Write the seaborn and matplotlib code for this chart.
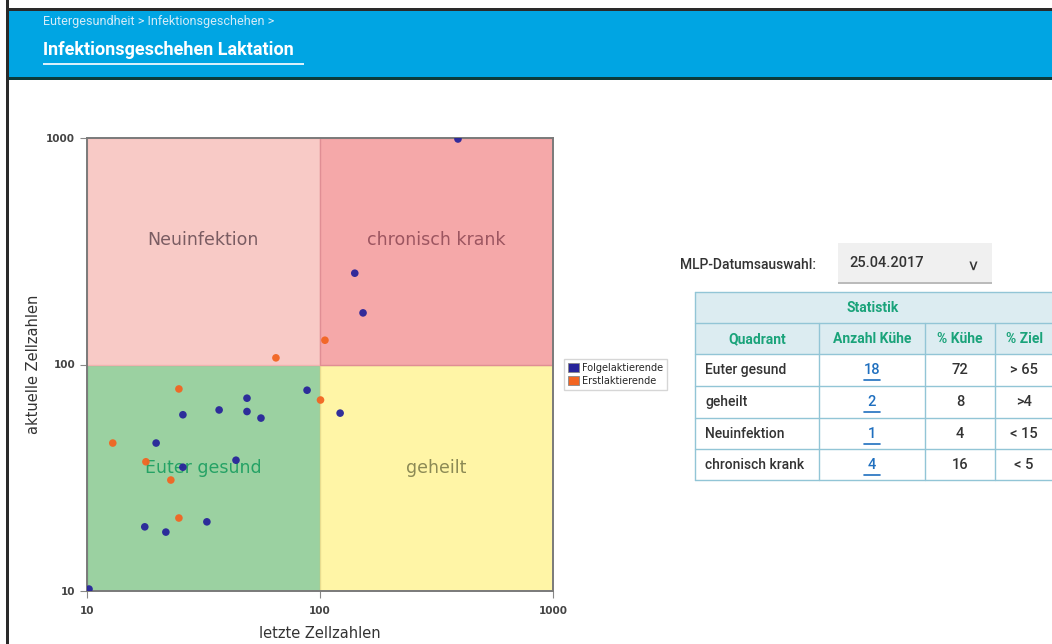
import matplotlib.pyplot as plt
import matplotlib.patches as mpatches
import pandas as pd
import seaborn as sns

# last vs current cell counts (x1000 / ml)
folge_x = [391, 141, 153, 88, 122, 48.6, 48.6, 36.9, 55.8, 25.8, 19.8, 43.6, 25.8, 17.7, 21.8, 32.7, 10.2]
folge_y = [990, 253, 169, 77, 61, 71, 62, 63, 58, 60, 45, 37.8, 35.2, 19.2, 18.2, 20.2, 10.2]
erst_x = [64.7, 105, 24.8, 100.5, 12.9, 17.9, 22.9, 24.8]
erst_y = [107, 128, 78, 69.7, 45, 37.2, 30.9, 21.0]

groups = ["Folgelaktierende", "Erstlaktierende"]
group_colors = ["#27249a", "#f26522"]

quadrants = ["Euter gesund", "geheilt", "Neuinfektion", "chronisch krank"]
anzahl = ["18", "2", "1", "4"]
prozent = ["72", "8", "4", "16"]
ziel = ["> 65", ">4", "< 15", "< 5"]
table_cols = ["Quadrant", "Anzahl Kühe", "% Kühe", "% Ziel"]

df = pd.DataFrame({
    "letzte": folge_x + erst_x,
    "aktuelle": folge_y + erst_y,
    "Gruppe": [groups[0]] * len(folge_x) + [groups[1]] * len(erst_x),
})

sns.set_style("white")
plt.rcParams["font.family"] = ["DejaVu Sans"]

W, H = 1052, 644
fig = plt.figure(figsize=(W / 100, H / 100), dpi=100)


def fx(px):
    return px / W


def fy(py):
    return 1 - py / H


# page frame + header bar
fig.patches.append(mpatches.Rectangle((fx(8), fy(78)), 1, fy(10) - fy(78), transform=fig.transFigure,
                                      facecolor="#00a5e3", edgecolor="none", zorder=0))
fig.patches.append(mpatches.Rectangle((fx(8), fy(80)), 1, fy(77) - fy(80), transform=fig.transFigure,
                                      facecolor="#0c3b3b", edgecolor="none", zorder=1))
fig.patches.append(mpatches.Rectangle((fx(8), fy(11)), 1, fy(8) - fy(11), transform=fig.transFigure,
                                      facecolor="#2a2a2a", edgecolor="none", zorder=1))
fig.patches.append(mpatches.Rectangle((fx(6), 0), fx(3), 1, transform=fig.transFigure,
                                      facecolor="#2a2a2a", edgecolor="none", zorder=1))
fig.text(fx(43), fy(21), "Eutergesundheit > Infektionsgeschehen >", color="#d4ecf8",
         fontsize=9, family="Roboto", va="center", ha="left")
fig.text(fx(43), fy(50), "Infektionsgeschehen Laktation", color="white", fontsize=13,
         family="Roboto", fontweight="bold", va="center", ha="left")
fig.patches.append(mpatches.Rectangle((fx(43), fy(64.5)), fx(261), fy(63) - fy(64.5),
                                      transform=fig.transFigure, facecolor="#d8f0fb",
                                      edgecolor="none", zorder=2))

# scatter chart
ax = fig.add_axes([fx(87), fy(591), fx(553) - fx(87), fy(138) - fy(591)])
ax.set_xscale("log")
ax.set_yscale("log")
ax.set_xlim(10, 1000)
ax.set_ylim(10, 1000)

quad_fill = {
    "Euter gesund": ((10, 100), (10, 100), "#9bd1a1"),
    "geheilt": ((100, 1000), (10, 100), "#fff5a6"),
    "Neuinfektion": ((10, 100), (100, 1000), "#f8cac6"),
    "chronisch krank": ((100, 1000), (100, 1000), "#f5a8a9"),
}
quad_text = {
    "Euter gesund": (31.6, 35, "#25a265"),
    "geheilt": (316, 35, "#8c8a55"),
    "Neuinfektion": (31.6, 355, "#7a5c62"),
    "chronisch krank": (316, 355, "#9c5560"),
}
edge = {"Euter gesund": "#6bbf85", "geheilt": "#e8dc90", "Neuinfektion": "#f0b3b0",
        "chronisch krank": "#e08e94"}
for name in quadrants:
    (x0, x1), (y0, y1), col = quad_fill[name]
    ax.add_patch(mpatches.Rectangle((x0, y0), x1 - x0, y1 - y0, facecolor=col,
                                    edgecolor=edge[name], lw=1, zorder=0))
    tx, ty, tc = quad_text[name]
    ax.text(tx, ty, name, color=tc, fontsize=12.5, ha="center", va="center", zorder=1)

sns.scatterplot(data=df, x="letzte", y="aktuelle", hue="Gruppe", hue_order=groups,
                palette=dict(zip(groups, group_colors)), s=30, linewidth=0, alpha=0.95,
                legend=False, ax=ax, zorder=3)

ax.set_xticks([10, 100, 1000])
ax.set_yticks([10, 100, 1000])
ax.set_xticklabels(["10", "100", "1000"])
ax.set_yticklabels(["10", "100", "1000"])
ax.minorticks_off()
ax.tick_params(axis="both", length=5, width=0.8, color="#888888", labelsize=7.5,
               labelcolor="#444444", direction="out", bottom=True, left=True)
for lab in ax.get_xticklabels() + ax.get_yticklabels():
    lab.set_fontweight("bold")
ax.tick_params(axis="x", pad=6)
for sp in ax.spines.values():
    sp.set_color("#7a7a7a")
    sp.set_linewidth(1.4)
ax.set_xlabel("letzte Zellzahlen", fontsize=10.5, color="#333333", labelpad=7)
ax.set_ylabel("aktuelle Zellzahlen", fontsize=10.5, color="#333333", labelpad=4)

handles = [mpatches.Patch(facecolor=c, edgecolor="#888888", lw=0.6, label=g)
           for g, c in zip(groups, group_colors)]
fig.legend(handles=handles, loc="upper left", bbox_to_anchor=(fx(564), fy(359)),
           fontsize=7, frameon=True, fancybox=False, edgecolor="#cccccc",
           handlelength=1.1, handleheight=1.1, handletextpad=0.4, borderpad=0.4,
           labelspacing=0.3, borderaxespad=0)

# date picker + statistics table
fig.text(fx(680), fy(265), "MLP-Datumsauswahl:", fontsize=10, family="Roboto",
         fontweight="medium", color="#333333", va="center", ha="left")
fig.patches.append(mpatches.Rectangle((fx(838), fy(283)), fx(154), fy(243) - fy(283),
                                      transform=fig.transFigure, facecolor="#f0f0f0",
                                      edgecolor="none"))
fig.patches.append(mpatches.Rectangle((fx(838), fy(284)), fx(154), fy(282) - fy(284),
                                      transform=fig.transFigure, facecolor="#bbbbbb",
                                      edgecolor="none"))
fig.text(fx(849), fy(263), "25.04.2017", fontsize=10.5, family="Roboto",
         fontweight="medium", color="#333333", va="center", ha="left")
fig.text(fx(970), fy(266), ">", fontsize=10, fontweight="bold", color="#333333",
         rotation=-90, va="center", ha="center")

tab = fig.add_axes([0, 0, 1, 1], zorder=5)
tab.set_xlim(0, W)
tab.set_ylim(H, 0)
tab.axis("off")
col_edges = [695, 819, 925, 995, 1070]
row_edges = [292, 323, 354, 386, 418, 449, 480]
border = "#92c5d6"
head_bg = "#dcecf1"
head_fg = "#1aa37a"
tab.add_patch(mpatches.Rectangle((695, 292), 400, 62, facecolor=head_bg, edgecolor="none"))
for y in row_edges:
    tab.plot([695, 1060], [y, y], color=border, lw=1)
tab.plot([695, 695], [292, 480], color=border, lw=1)
for x in col_edges[1:-1]:
    tab.plot([x, x], [323, 480], color=border, lw=1)
tab.text(873, 307.5, "Statistik", fontsize=10, family="Roboto", fontweight="bold",
         color=head_fg, ha="center", va="center")
for i, name in enumerate(table_cols):
    cx = (col_edges[i] + col_edges[i + 1]) / 2 if i < 3 else 1024
    tab.text(cx, 339, name, fontsize=10, family="Roboto", fontweight="bold",
             color=head_fg, ha="center", va="center")
for r, name in enumerate(quadrants):
    cy = (row_edges[r + 2] + row_edges[r + 3]) / 2
    tab.text(705, cy, name, fontsize=10, family="Roboto", fontweight="medium",
             color="#333333", ha="left", va="center")
    tab.text(872, cy, anzahl[r], fontsize=10.5, family="Roboto", fontweight="medium",
             color="#1f6fbf", ha="center", va="center")
    tab.plot([864, 880], [cy + 10, cy + 10], color="#1f6fbf", lw=1.2)
    tab.text(960, cy, prozent[r], fontsize=10.5, family="Roboto", fontweight="medium",
             color="#333333", ha="center", va="center")
    tab.text(1024, cy, ziel[r], fontsize=10.5, family="Roboto", fontweight="medium",
             color="#333333", ha="center", va="center")

fig.savefig("out.png", dpi=100)
